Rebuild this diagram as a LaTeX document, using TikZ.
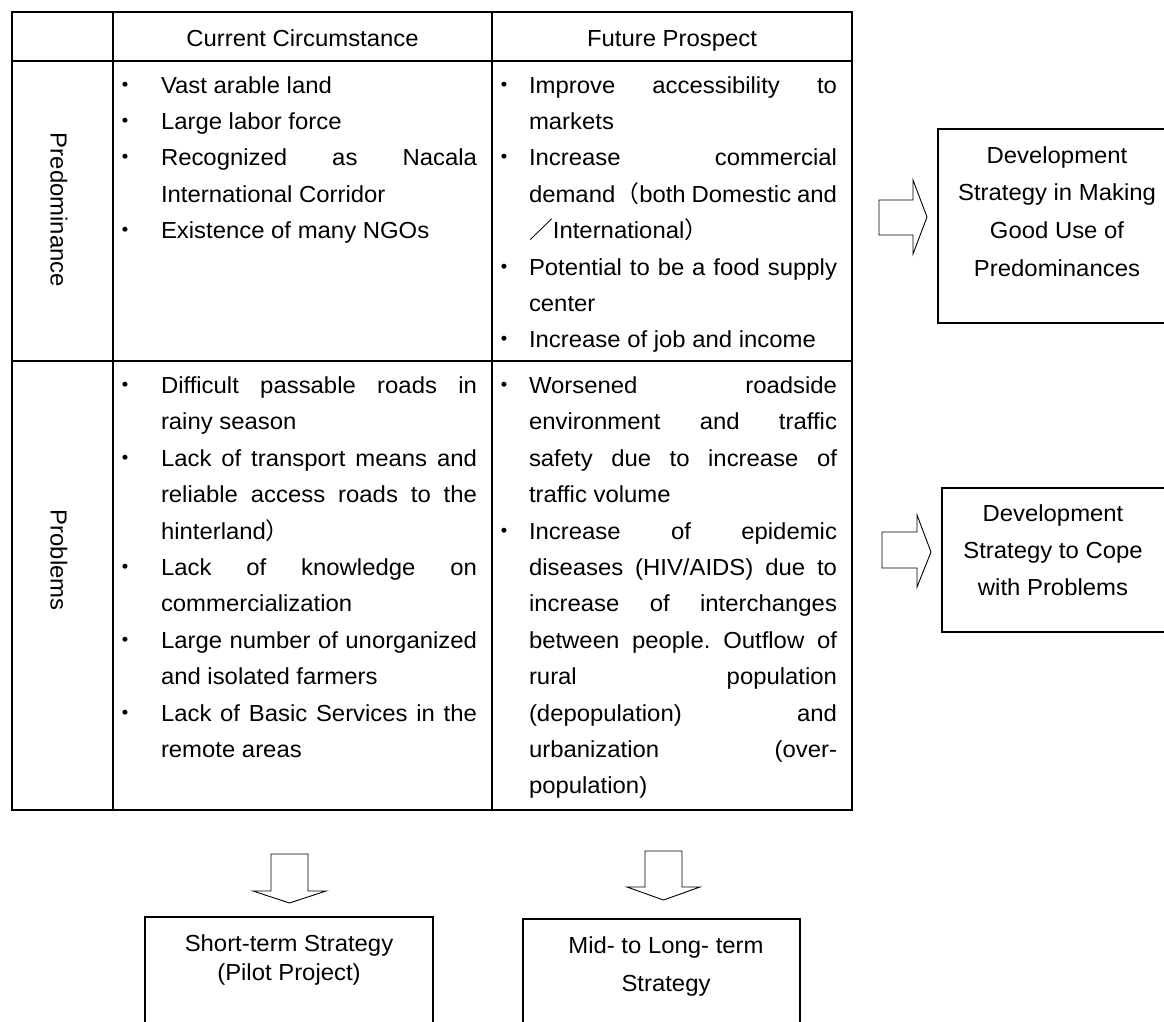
\documentclass[tikz,border=0pt]{standalone}
\usepackage{fontspec}
\setmainfont{Liberation Sans}[FakeStretch=1.03]
\newfontfamily\cjkfont{Noto Sans CJK JP}[FakeStretch=1.03]
\newcommand\mainsz{\fontsize{23.2pt}{27pt}\selectfont}
\newcommand\jusA[1]{\makebox[316pt][s]{#1}}
\newcommand\jusB[1]{\makebox[308pt][s]{#1}}
\newcommand\jbul{{\cjkfont ・}}
\frenchspacing
\begin{document}
\frenchspacing
\begin{tikzpicture}[x=1pt,y=-1pt,
  every node/.style={inner sep=0pt,outer sep=0pt,font=\mainsz\frenchspacing},
  hdr/.style={anchor=base},
  bul/.style={anchor=base},
  txt/.style={anchor=base west},
  tline/.style={line width=1.8pt},
  sbox/.style={draw,line width=1.5pt,anchor=north west},
  barrow/.style={draw,line width=0.9pt,line join=miter,fill=white}]
\useasboundingbox (0,0) rectangle (1164,1021);
\clip (0,0) rectangle (1164,1021);
% table frame
\coordinate (tl) at (12,12);
\coordinate (br) at (852,810);
\draw[tline] (tl) rectangle (br);
\draw[tline] (113,12) -- (113,810);
\draw[tline] (492,12) -- (492,810);
\draw[tline] (12,61) -- (852,61);
\draw[tline] (12,361) -- (852,361);
% headers
\node[hdr] (hcur) at (302.5,46) {Current Circumstance};
\node[hdr] (hfut) at (672,46) {Future Prospect};
\node[rotate=-90] (lpre) at (59,210) {Predominance};
\node[rotate=-90] (lprob) at (59,560) {Problems};
% row 1, column 2
\node[bul] (ba1) at (125,93) {\jbul};
\node[bul] (ba2) at (125,129.4) {\jbul};
\node[bul] (ba3) at (125,165.8) {\jbul};
\node[bul] (ba5) at (125,238.6) {\jbul};
\node[txt] (a1) at (161,93) {Vast arable land};
\node[txt] (a2) at (161,129.4) {Large labor force};
\node[txt] (a3) at (161,165.8) {\jusA{Recognized as Nacala}};
\node[txt] (a4) at (161,202.2) {International Corridor};
\node[txt] (a5) at (161,238.6) {Existence of many NGOs};
% row 1, column 3
\node[bul] (bb1) at (504,93) {\jbul};
\node[bul] (bb3) at (504,165.8) {\jbul};
\node[bul] (bb6) at (504,275) {\jbul};
\node[bul] (bb8) at (504,347.8) {\jbul};
\node[txt] (b1) at (529,93) {\jusB{Improve accessibility to}};
\node[txt] (b2) at (529,129.4) {markets};
\node[txt] (b3) at (529,165.8) {\jusB{Increase commercial}};
\node[txt] (b4) at (529,202.2) {\jusB{demand{\cjkfont （}both Domestic and}};
\node[txt] (b5) at (529,238.6) {{\cjkfont ／}International{\cjkfont ）}};
\node[txt] (b6) at (529,275) {\jusB{Potential to be a food supply}};
\node[txt] (b7) at (529,311.4) {center};
\node[txt] (b8) at (529,347.8) {Increase of job and income};
% row 2, column 2
\node[bul] (bc1) at (125,393.5) {\jbul};
\node[bul] (bc3) at (125,466.3) {\jbul};
\node[bul] (bc6) at (125,575.5) {\jbul};
\node[bul] (bc8) at (125,648.3) {\jbul};
\node[bul] (bc10) at (125,721.1) {\jbul};
\node[txt] (c1) at (161,393.5) {\jusA{Difficult passable roads in}};
\node[txt] (c2) at (161,429.9) {rainy season};
\node[txt] (c3) at (161,466.3) {\jusA{Lack of transport means and}};
\node[txt] (c4) at (161,502.7) {\jusA{reliable access roads to the}};
\node[txt] (c5) at (161,539.1) {hinterland{\cjkfont ）}};
\node[txt] (c6) at (161,575.5) {\jusA{Lack of knowledge on}};
\node[txt] (c7) at (161,611.9) {commercialization};
\node[txt] (c8) at (161,648.3) {\jusA{Large number of unorganized}};
\node[txt] (c9) at (161,684.7) {and isolated farmers};
\node[txt] (c10) at (161,721.1) {\jusA{Lack of Basic Services in the}};
\node[txt] (c11) at (161,757.5) {remote areas};
% row 2, column 3
\node[bul] (bd1) at (504,393.5) {\jbul};
\node[bul] (bd5) at (504,539.1) {\jbul};
\node[txt] (d1) at (529,393.5) {\jusB{Worsened roadside}};
\node[txt] (d2) at (529,429.9) {\jusB{environment and traffic}};
\node[txt] (d3) at (529,466.3) {\jusB{safety due to increase of}};
\node[txt] (d4) at (529,502.7) {traffic volume};
\node[txt] (d5) at (529,539.1) {\jusB{Increase of epidemic}};
\node[txt] (d6) at (529,575.5) {\jusB{diseases (HIV/AIDS) due to}};
\node[txt] (d7) at (529,611.9) {\jusB{increase of interchanges}};
\node[txt] (d8) at (529,648.3) {\jusB{between people. Outflow of}};
\node[txt] (d9) at (529,684.7) {\jusB{rural population}};
\node[txt] (d10) at (529,721.1) {\jusB{(depopulation) and}};
\node[txt] (d11) at (529,757.5) {\jusB{urbanization (over-}};
\node[txt] (d12) at (529,793.9) {population)};
% right boxes
\node[sbox,minimum width=300pt,minimum height=194pt] (dev1) at (938,129) {};
\node[hdr] (e1) at (1057,163) {Development};
\node[hdr] (e2) at (1057,200.5) {Strategy in Making};
\node[hdr] (e3) at (1057,238) {Good Use of};
\node[hdr] (e4) at (1057,276) {Predominances};
\node[sbox,minimum width=300pt,minimum height=144pt] (dev2) at (942,488) {};
\node[hdr] (f1) at (1053,521) {Development};
\node[hdr] (f2) at (1053,558) {Strategy to Cope};
\node[hdr] (f3) at (1053,595) {with Problems};
% bottom boxes
\node[sbox,minimum width=288pt,minimum height=150pt] (short) at (145,917) {};
\node[hdr] (g1) at (289,951) {Short-term Strategy};
\node[hdr] (g2) at (289,980) {(Pilot Project)};
\node[sbox,minimum width=277pt,minimum height=150pt] (midlong) at (523,919) {};
\node[hdr] (h1) at (666,953) {Mid- to Long- term};
\node[hdr] (h2) at (666,991) {Strategy};
% block arrows
\draw[barrow] (879,200) -- (913,200) -- (913,180) -- (927,217) -- (913,254) -- (913,235) -- (879,235) -- cycle;
\draw[barrow] (882,532) -- (917,532) -- (917,515) -- (931,552) -- (917,587) -- (917,568) -- (882,568) -- cycle;
\draw[barrow] (271,854) -- (308,854) -- (308,891) -- (326,891) -- (289.5,903) -- (253,891) -- (271,891) -- cycle;
\draw[barrow] (645,851) -- (682,851) -- (682,887) -- (700,887) -- (663.5,900) -- (627,887) -- (645,887) -- cycle;
\end{tikzpicture}
\end{document}
